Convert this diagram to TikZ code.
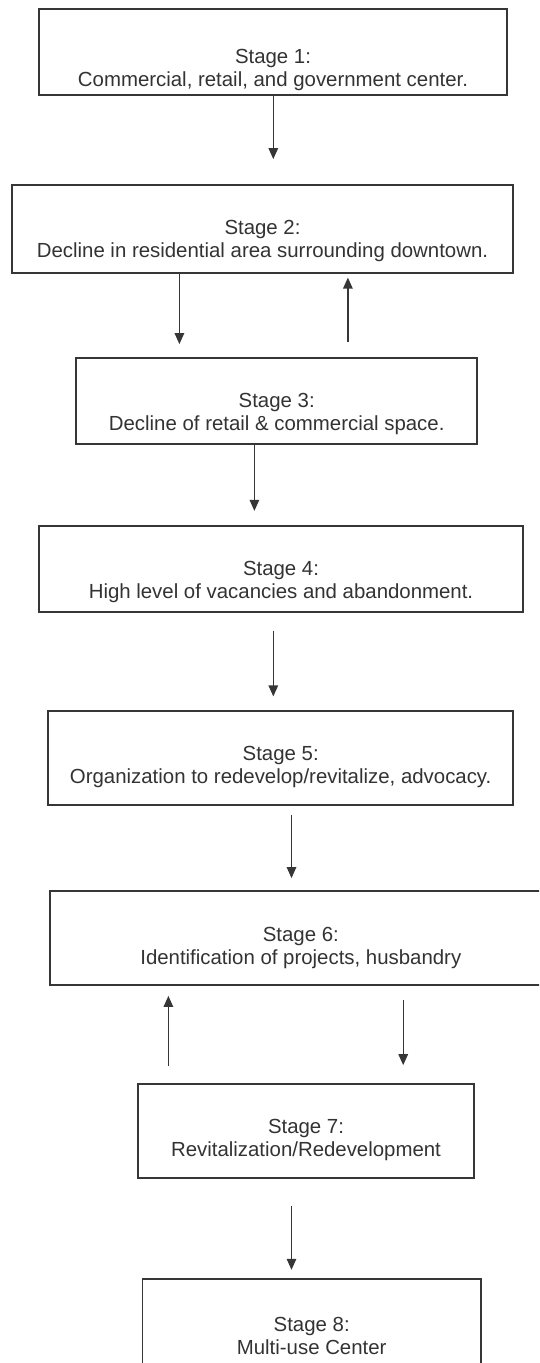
\documentclass[tikz,border=0pt]{standalone}
\usepackage{fontspec}
\setmainfont{Liberation Sans}
\usetikzlibrary{arrows.meta}
\definecolor{boxline}{HTML}{363636}
\definecolor{inktext}{HTML}{333333}
\tikzset{
  stagebox/.style={draw=boxline, line width=1.8pt, fill=none, inner sep=0pt},
  stagetext/.style={text=inktext, align=center, inner sep=0pt,
    font=\fontsize{20.4pt}{23.5pt}\selectfont},
  arr/.style={draw=boxline, line width=1.3pt,
    -{Triangle[length=11pt,width=9.5pt]}}
}
\begin{document}
\begin{tikzpicture}[x=1pt,y=-1pt]
\useasboundingbox (0,0) rectangle (539,1363);
\fill[white] (0,0) rectangle (539,1363);
\clip (0,0) rectangle (539,1363);

% stage boxes
\node[stagebox, minimum width=468pt, minimum height=86pt] (s1) at (273,52) {};
\node[stagebox, minimum width=501pt, minimum height=88pt] (s2) at (262.5,229) {};
\node[stagebox, minimum width=400.7pt, minimum height=86pt] (s3) at (276.7,401) {};
\node[stagebox, minimum width=484.4pt, minimum height=86.3pt] (s4) at (281,569.2) {};
\node[stagebox, minimum width=465pt, minimum height=94pt] (s5) at (280.7,758) {};
\node[stagebox, minimum width=502pt, minimum height=94pt] (s6) at (300.8,938) {};
\node[stagebox, minimum width=335.5pt, minimum height=94.3pt] (s7) at (306,1131.2) {};
\node[stagebox, minimum width=338.5pt, minimum height=110pt] (s8) at (311.7,1334) {};

% stage texts
\node[stagetext] (t1) at (273,70) {Stage 1:\\Commercial, retail, and government center.};
\node[stagetext] (t2) at (262.5,241) {Stage 2:\\Decline in residential area surrounding downtown.};
\node[stagetext] (t3) at (276.7,414) {Stage 3:\\Decline of retail \& commercial space.};
\node[stagetext] (t4) at (281,582) {Stage 4:\\High level of vacancies and abandonment.};
\node[stagetext] (t5) at (280.7,767) {Stage 5:\\Organization to redevelop/revitalize, advocacy.};
\node[stagetext] (t6) at (300.8,948) {Stage 6:\\Identification of projects, husbandry};
\node[stagetext] (t7) at (306,1140) {Stage 7:\\Revitalization/Redevelopment};
\node[stagetext] (t8) at (311.7,1336) {Stage 8:\\Multi-use Center};

% columns of the connectors
\coordinate (c1) at (273.3,0);
\coordinate (c2d) at (179.4,0);
\coordinate (c2u) at (347.9,0);
\coordinate (c3) at (254.4,0);
\coordinate (c4) at (273.3,0);
\coordinate (c5) at (291.5,0);
\coordinate (c6u) at (168.4,0);
\coordinate (c6d) at (403.2,0);
\coordinate (c7) at (291.5,0);

% connectors
\draw[arr, shorten >=25pt] (c1 |- s1.south) -- (c1 |- s2.north);
\draw[arr, shorten >=13pt] (c2d |- s2.south) -- (c2d |- s3.north);
\draw[arr, shorten <=15pt, shorten >=3.7pt] (c2u |- s3.north) -- (c2u |- s2.south);
\draw[arr, shorten >=14.3pt] (c3 |- s3.south) -- (c3 |- s4.north);
\draw[arr, shorten <=17.3pt, shorten >=13.7pt] (c4 |- s4.south) -- (c4 |- s5.north);
\draw[arr, shorten <=9pt, shorten >=12pt] (c5 |- s5.south) -- (c5 |- s6.north);
\draw[arr, shorten <=16.7pt, shorten >=10pt] (c6u |- s7.north) -- (c6u |- s6.south);
\draw[arr, shorten <=14.3pt, shorten >=18pt] (c6d |- s6.south) -- (c6d |- s7.north);
\draw[arr, shorten <=27pt, shorten >=8.3pt] (c7 |- s7.south) -- (c7 |- s8.north);
\end{tikzpicture}
\end{document}
